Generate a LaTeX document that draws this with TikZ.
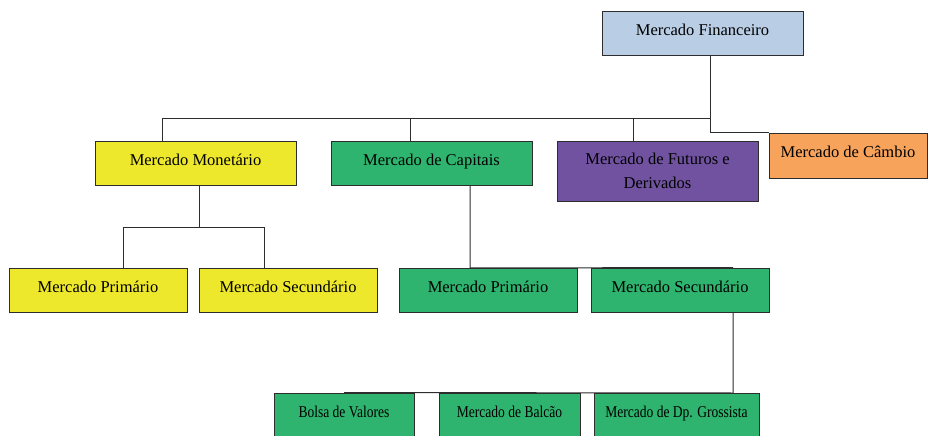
\documentclass[tikz,border=0pt]{standalone}
\usepackage{fontspec}
\setmainfont{Liberation Serif}
\newfontfamily\narrowfont[FakeStretch=0.82]{Liberation Serif}
\usetikzlibrary{calc}
\definecolor{finBlue}{RGB}{185, 205, 229}
\definecolor{monYellow}{RGB}{238, 232, 44}
\definecolor{capGreen}{RGB}{46, 180, 110}
\definecolor{futPurple}{RGB}{113, 82, 160}
\definecolor{camOrange}{RGB}{247, 163, 91}
\definecolor{lineGray}{RGB}{45, 45, 45}
\tikzstyle{box}= [draw=lineGray, line width=1pt, inner sep=2pt, font=\fontsize{16.5}{24}\selectfont]
\tikzstyle{line}= [text height=10pt, text depth=6pt]
\tikzstyle{Box}= [minimum width=201pt, minimum height=44pt, box, line]
\tikzstyle{Sub}= [minimum width=178pt, minimum height=44pt, box, line]
\tikzstyle{Place}= [minimum height=44pt, box, line, fill=capGreen, font=\fontsize{16.5}{24}\narrowfont]
\tikzstyle{link}= [draw=lineGray, line width=1pt]

\begin{document}
\begin{tikzpicture}[x=1pt,y=-1pt]
    \useasboundingbox (0,0) rectangle (935,436);

    % top level
    \node [Box, fill=finBlue] (fin) at (702.5,34) {Mercado Financeiro};

    % market types
    \node [Box, fill=monYellow] (mon) at (195.5,163) {Mercado Monetário};
    \node [Box, fill=capGreen] (cap) at (431.5,163) {Mercado de Capitais};
    \node [box, fill=futPurple, minimum width=201pt, minimum height=60pt, align=center] (fut) at (657.5,171)
        {Mercado de Futuros e\\Derivados};
    \node [Box, fill=camOrange, minimum width=158pt, minimum height=45pt] (cam) at (848,155.5)
        {Mercado de Câmbio};

    % primary and secondary markets
    \node [Sub, fill=monYellow] (mon_prim) at (98,290) {Mercado Primário};
    \node [Sub, fill=monYellow] (mon_sec) at (288,290) {Mercado Secundário};
    \node [Sub, fill=capGreen] (cap_prim) at (488,290) {Mercado Primário};
    \node [Sub, fill=capGreen] (cap_sec) at (680,290) {Mercado Secundário};

    % secondary market places
    \node [Place, minimum width=140pt] (bolsa) at (344,415) {Bolsa de Valores};
    \node [Place, minimum width=141pt] (balcao) at (509.5,415) {Mercado de Balcão};
    \node [Place, minimum width=165pt] (grossista) at (676.5,415) {Mercado de Dp. Grossista};

    % financial market path
    \coordinate (fin_split) at (710,118);
    \draw[link] (fin.south -| fin_split) -- (fin_split) -| ($(mon.north)+(-33,0)$);
    \draw[link] (fin_split) -| ($(cap.north)+(-21,0)$);
    \draw[link] (fin_split) -| ($(fut.north)+(-24,0)$);
    \draw[link] (fin_split) |- (cam.north west);

    % money market path
    \coordinate (mon_split) at (199,227);
    \draw[link] (mon.south -| mon_split) -- (mon_split) -| ($(mon_prim.north)+(25,0)$);
    \draw[link] (mon_split) -| ($(mon_sec.north)+(-24,0)$);

    % capital market path
    \coordinate (cap_split) at (470,268);
    \draw[link] (cap.south -| cap_split) -- (cap_split) -- ($(cap_sec.north)+(53,0)$);

    % secondary market path
    \coordinate (sec_split) at (733,393);
    \draw[link] (cap_sec.south -| sec_split) -- (sec_split) -- (bolsa.north);

\end{tikzpicture}
\end{document}
